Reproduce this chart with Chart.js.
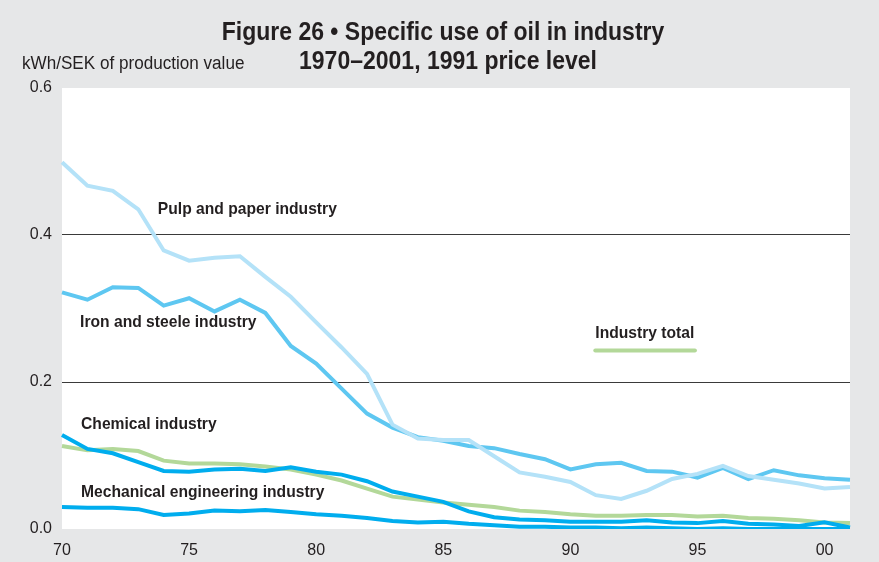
<!DOCTYPE html>
<html>
<head>
<meta charset="utf-8">
<script src="https://cdn.jsdelivr.net/npm/chart.js@4.4.0/dist/chart.umd.min.js"></script>
<style>
  html, body { margin: 0; padding: 0; background: #e6e7e8; }
  #wrap { width: 879px; height: 562px; position: relative; }
</style>
</head>
<body>
<div id="wrap"><canvas id="oilChart" width="879" height="562"></canvas></div>
<script>
// Years on the x axis
const years = ['1970','1971','1972','1973','1974','1975','1976','1977','1978','1979',
               '1980','1981','1982','1983','1984','1985','1986','1987','1988','1989',
               '1990','1991','1992','1993','1994','1995','1996','1997','1998','1999',
               '2000','2001'];

// kWh/SEK of production value
const pulpPaper = [0.499,0.467,0.460,0.435,0.379,0.365,0.369,0.371,0.343,0.316,
                   0.281,0.247,0.211,0.142,0.123,0.121,0.121,0.099,0.077,0.071,
                   0.064,0.046,0.041,0.052,0.068,0.075,0.086,0.072,0.067,0.062,
                   0.055,0.057];
const ironSteel = [0.322,0.312,0.329,0.328,0.304,0.314,0.296,0.312,0.294,0.249,
                   0.225,0.191,0.157,0.138,0.125,0.120,0.113,0.110,0.102,0.095,
                   0.081,0.088,0.090,0.079,0.078,0.070,0.083,0.068,0.080,0.073,
                   0.069,0.067];
const chemical = [0.128,0.109,0.103,0.091,0.079,0.078,0.081,0.082,0.079,0.084,
                  0.078,0.074,0.065,0.051,0.044,0.037,0.024,0.016,0.013,0.012,
                  0.010,0.010,0.010,0.012,0.009,0.008,0.011,0.007,0.006,0.004,
                  0.009,0.002];
const mechanical = [0.030,0.029,0.029,0.027,0.019,0.021,0.025,0.024,0.026,0.023,
                    0.020,0.018,0.015,0.011,0.009,0.010,0.007,0.005,0.003,0.003,
                    0.002,0.002,0.001,0.002,0.001,0.000,0.001,0.000,0.000,0.000,
                    0.000,0.000];
const industryTotal = [0.113,0.107,0.109,0.106,0.093,0.089,0.089,0.088,0.085,0.081,
                       0.074,0.066,0.055,0.044,0.040,0.036,0.033,0.030,0.025,0.023,
                       0.020,0.018,0.018,0.019,0.019,0.017,0.018,0.015,0.014,0.012,
                       0.009,0.008];

const yTicks = [0, 0.2, 0.4, 0.6];

const titleLines = ['Figure 26 \u2022 Specific use of oil in industry', '1970\u20132001, 1991 price level'];
const unitLabel = 'kWh/SEK of production value';

// label text, year position (left edge), value position (middle)
const seriesLabels = [
    { text: 'Pulp and paper industry', year: 1973.77, value: 0.435 },
    { text: 'Iron and steele industry', year: 1970.71, value: 0.281 },
    { text: 'Chemical industry', year: 1970.75, value: 0.142 },
    { text: 'Mechanical engineering industry', year: 1970.75, value: 0.050 },
    { text: 'Industry total', year: 1990.98, value: 0.266 }
];

const COLORS = {
    pulp: '#b4e2f8',
    iron: '#5ec7f1',
    chem: '#00adee',
    mech: '#00adee',
    total: '#b3d899',
    bg: '#e6e7e8',
    text: '#231f20'
};

const FONT = '"Liberation Sans", Arial, sans-serif';

// no condensed face installed, so squeeze the text horizontally
function squeezedText(ctx, text, x, y, font, sx, align) {
    ctx.save();
    ctx.font = font;
    ctx.textAlign = align;
    ctx.translate(x, y);
    ctx.scale(sx, 1);
    ctx.fillText(text, 0, 0);
    ctx.restore();
}

const decorPlugin = {
    id: 'decor',
    beforeDraw(chart) {
        const { ctx, chartArea: a } = chart;
        ctx.save();
        ctx.fillStyle = COLORS.bg;
        ctx.fillRect(0, 0, chart.width, chart.height);
        ctx.fillStyle = '#ffffff';
        ctx.fillRect(a.left, a.top, a.right - a.left, a.bottom - a.top);
        ctx.restore();
    },
    afterDatasetsDraw(chart) {
        const { ctx } = chart;
        const xs = chart.scales.x, ys = chart.scales.y;
        ctx.save();
        ctx.fillStyle = COLORS.text;
        ctx.textBaseline = 'middle';

        // title
        squeezedText(ctx, titleLines[0], 443, 33, 'bold 25px ' + FONT, 0.92, 'center');
        squeezedText(ctx, titleLines[1], 448, 62, 'bold 25px ' + FONT, 0.92, 'center');

        // unit
        squeezedText(ctx, unitLabel, 22, 64, '18px ' + FONT, 0.95, 'left');

        // series labels
        seriesLabels.forEach(l => {
            const px = xs.getPixelForValue(l.year - 1970);
            const py = ys.getPixelForValue(l.value);
            squeezedText(ctx, l.text, px, py, 'bold 17px ' + FONT, 0.92, 'left');
        });

        // industry total key line
        const x0 = xs.getPixelForValue(1990.98 - 1970);
        const x1 = xs.getPixelForValue(1994.9 - 1970);
        const yl = ys.getPixelForValue(0.243);
        ctx.strokeStyle = COLORS.total;
        ctx.lineWidth = 4;
        ctx.lineCap = 'round';
        ctx.beginPath();
        ctx.moveTo(x0, yl);
        ctx.lineTo(x1, yl);
        ctx.stroke();
        ctx.restore();
    }
};

function lineSet(label, data, color) {
    return {
        label: label,
        data: data,
        borderColor: color,
        backgroundColor: color,
        borderWidth: 4,
        pointRadius: 0,
        tension: 0,
        fill: false
    };
}

const ctx = document.getElementById('oilChart').getContext('2d');
new Chart(ctx, {
    type: 'line',
    data: {
        labels: years,
        datasets: [
            lineSet('Pulp and paper industry', pulpPaper, COLORS.pulp),
            lineSet('Iron and steele industry', ironSteel, COLORS.iron),
            lineSet('Chemical industry', chemical, COLORS.chem),
            lineSet('Mechanical engineering industry', mechanical, COLORS.mech),
            lineSet('Industry total', industryTotal, COLORS.total)
        ]
    },
    options: {
        responsive: false,
        animation: false,
        layout: { padding: { top: 88, right: 29, left: 0, bottom: 0 } },
        plugins: {
            legend: { display: false },
            tooltip: { enabled: false }
        },
        scales: {
            x: {
                offset: false,
                grid: { display: false },
                border: { display: false },
                afterFit: s => { s.height = 33; },
                ticks: {
                    autoSkip: false,
                    maxRotation: 0,
                    padding: 4,
                    color: COLORS.text,
                    font: { family: FONT, size: 16 },
                    callback: function (val, i) {
                        const y = parseInt(years[i], 10);
                        return y % 5 === 0 ? years[i].slice(2) : '';
                    }
                }
            },
            y: {
                min: yTicks[0],
                max: yTicks[yTicks.length - 1],
                afterFit: s => { s.width = 62; },
                afterBuildTicks: s => { s.ticks = yTicks.map(v => ({ value: v })); },
                border: { display: false },
                grid: {
                    drawTicks: false,
                    lineWidth: 1,
                    color: c => (c.tick && (c.tick.value === 0.2 || c.tick.value === 0.4)) ? '#3a3a3a' : 'rgba(0,0,0,0)'
                },
                ticks: {
                    padding: 10,
                    color: COLORS.text,
                    font: { family: FONT, size: 16 },
                    callback: v => v.toFixed(1)
                }
            }
        }
    },
    plugins: [decorPlugin]
});
</script>
</body>
</html>
